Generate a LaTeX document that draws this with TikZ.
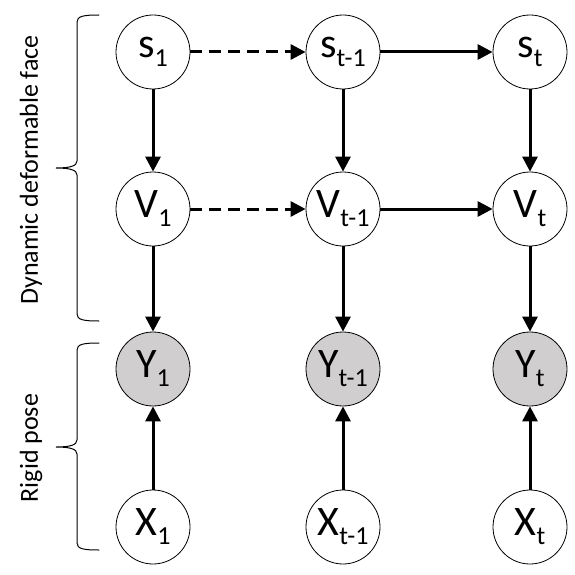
\documentclass[tikz,border=0pt]{standalone}
\usepackage{fontspec}
\setmainfont{Carlito}
\usetikzlibrary{arrows.meta}
\definecolor{obsgrey}{HTML}{D0CECE}
\newcommand{\varlab}[2]{\fontsize{42}{46}\selectfont #1\raisebox{-9pt}{\fontsize{26}{28}\selectfont #2}}
\tikzset{
  var/.style={circle,draw=black,line width=0.8pt,fill=white,minimum size=74pt,inner sep=0pt},
  obs/.style={var,fill=obsgrey},
  edge/.style={line width=3pt,-{Triangle[length=15pt,width=15pt]}},
  dedge/.style={edge,dash pattern=on 12pt off 7pt},
  bracepath/.style={line width=1pt,line cap=round},
  sidelab/.style={rotate=90,font=\fontsize{26}{28}\selectfont,inner sep=0pt}
}
\begin{document}
\begin{tikzpicture}[x=1pt,y=-1pt]
\useasboundingbox (0,0) rectangle (575,575);
% nodes
\node[var] (s1) at (153,52) {\varlab{s}{1}};
\node[var] (st1) at (343,52) {\varlab{s}{t-1}};
\node[var] (st) at (530,52) {\varlab{s}{t}};
\node[var] (v1) at (153,209) {\varlab{V}{1}};
\node[var] (vt1) at (343,209) {\varlab{V}{t-1}};
\node[var] (vt) at (530,209) {\varlab{V}{t}};
\node[obs] (y1) at (153,369) {\varlab{Y}{1}};
\node[obs] (yt1) at (343,369) {\varlab{Y}{t-1}};
\node[obs] (yt) at (530,369) {\varlab{Y}{t}};
\node[var] (x1) at (153,527) {\varlab{X}{1}};
\node[var] (xt1) at (343,527) {\varlab{X}{t-1}};
\node[var] (xt) at (530,527) {\varlab{X}{t}};
% edges
\draw[dedge] (s1) -- (st1);
\draw[edge] (st1) -- (st);
\draw[dedge] (v1) -- (vt1);
\draw[edge] (vt1) -- (vt);
\foreach \c in {1,t1,t}{
  \draw[edge] (s\c) -- (v\c);
  \draw[edge] (v\c) -- (y\c);
  \draw[edge] (x\c) -- (y\c);
}
% braces
\draw[bracepath] (99,15) .. controls (84,15) and (77,16) .. (77,22) -- (77,161)
  .. controls (77,166) and (70,168) .. (56,168)
  .. controls (70,168) and (77,170) .. (77,175) -- (77,314)
  .. controls (77,320) and (84,321) .. (99,321);
\draw[bracepath] (99,343) .. controls (84,343) and (77,344) .. (77,350) -- (77,440)
  .. controls (77,445) and (70,447) .. (56,447)
  .. controls (70,447) and (77,449) .. (77,454) -- (77,543)
  .. controls (77,549) and (84,550) .. (99,550);
% labels
\node[sidelab] (lab1) at (31,170) {Dynamic deformable face};
\node[sidelab] (lab2) at (31,448) {Rigid pose};
\end{tikzpicture}
\end{document}
